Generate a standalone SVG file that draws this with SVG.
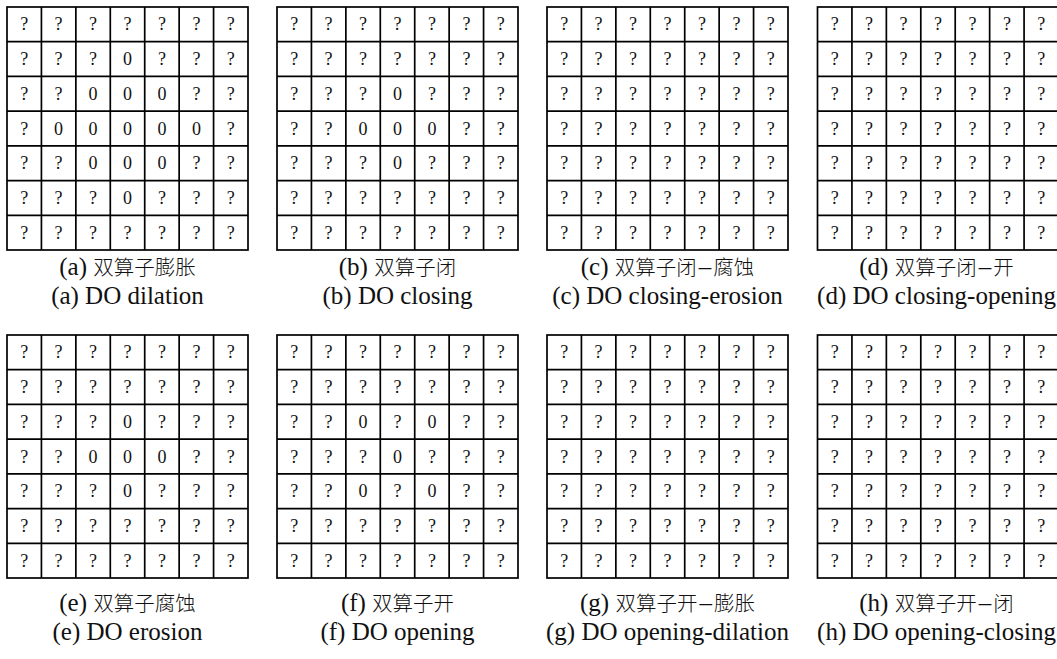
<svg xmlns="http://www.w3.org/2000/svg" xmlns:xlink="http://www.w3.org/1999/xlink" width="1057" height="659" viewBox="0 0 1057 659">
<style>
.gl{fill:none;stroke:#000;stroke-width:1.7}
.c{font-family:"Liberation Serif","DejaVu Serif",serif;font-size:18px;text-anchor:middle;fill:#111}
.cap{font-family:"Liberation Serif","DejaVu Serif",serif;font-size:25px;text-anchor:middle;fill:#111}
.zh{font-family:"Noto Sans CJK SC",sans-serif;font-size:20.5px;font-weight:300}
</style>
<defs>
<g id="grid">
<rect class="gl" x="0" y="0" width="241" height="243"/>
<path class="gl" d="M34.43 0V243M68.86 0V243M103.29 0V243M137.71 0V243M172.14 0V243M206.57 0V243M0 34.71H241M0 69.43H241M0 104.14H241M0 138.86H241M0 173.57H241M0 208.29H241"/>
</g>
</defs>
<rect width="1057" height="659" fill="#fff"/>

<g id="node-a" transform="translate(7,7)">
<use xlink:href="#grid" href="#grid"/>
<text class="c" x="17.2 51.6 86.1 120.5 154.9 189.4 223.8" y="23.4">???????</text>
<text class="c" x="17.2 51.6 86.1 120.5 154.9 189.4 223.8" y="58.1">???0???</text>
<text class="c" x="17.2 51.6 86.1 120.5 154.9 189.4 223.8" y="92.8">??000??</text>
<text class="c" x="17.2 51.6 86.1 120.5 154.9 189.4 223.8" y="127.5">?00000?</text>
<text class="c" x="17.2 51.6 86.1 120.5 154.9 189.4 223.8" y="162.2">??000??</text>
<text class="c" x="17.2 51.6 86.1 120.5 154.9 189.4 223.8" y="196.9">???0???</text>
<text class="c" x="17.2 51.6 86.1 120.5 154.9 189.4 223.8" y="231.6">???????</text>
</g>
<g id="caption-a">
<text class="cap" x="127.5" y="275">(a) <tspan class="zh">双算子膨胀</tspan></text>
<text class="cap" x="127.5" y="304">(a) DO dilation</text>
</g>

<g id="node-b" transform="translate(277,7)">
<use xlink:href="#grid" href="#grid"/>
<text class="c" x="17.2 51.6 86.1 120.5 154.9 189.4 223.8" y="23.4">???????</text>
<text class="c" x="17.2 51.6 86.1 120.5 154.9 189.4 223.8" y="58.1">???????</text>
<text class="c" x="17.2 51.6 86.1 120.5 154.9 189.4 223.8" y="92.8">???0???</text>
<text class="c" x="17.2 51.6 86.1 120.5 154.9 189.4 223.8" y="127.5">??000??</text>
<text class="c" x="17.2 51.6 86.1 120.5 154.9 189.4 223.8" y="162.2">???0???</text>
<text class="c" x="17.2 51.6 86.1 120.5 154.9 189.4 223.8" y="196.9">???????</text>
<text class="c" x="17.2 51.6 86.1 120.5 154.9 189.4 223.8" y="231.6">???????</text>
</g>
<g id="caption-b">
<text class="cap" x="397.5" y="275">(b) <tspan class="zh">双算子闭</tspan></text>
<text class="cap" x="397.5" y="304">(b) DO closing</text>
</g>

<g id="node-c" transform="translate(547,7)">
<use xlink:href="#grid" href="#grid"/>
<text class="c" x="17.2 51.6 86.1 120.5 154.9 189.4 223.8" y="23.4">???????</text>
<text class="c" x="17.2 51.6 86.1 120.5 154.9 189.4 223.8" y="58.1">???????</text>
<text class="c" x="17.2 51.6 86.1 120.5 154.9 189.4 223.8" y="92.8">???????</text>
<text class="c" x="17.2 51.6 86.1 120.5 154.9 189.4 223.8" y="127.5">???????</text>
<text class="c" x="17.2 51.6 86.1 120.5 154.9 189.4 223.8" y="162.2">???????</text>
<text class="c" x="17.2 51.6 86.1 120.5 154.9 189.4 223.8" y="196.9">???????</text>
<text class="c" x="17.2 51.6 86.1 120.5 154.9 189.4 223.8" y="231.6">???????</text>
</g>
<g id="caption-c">
<text class="cap" x="667.5" y="275">(c) <tspan class="zh">双算子闭</tspan><tspan dx="2">–</tspan><tspan class="zh" dx="2">腐蚀</tspan></text>
<text class="cap" x="667.5" y="304">(c) DO closing-erosion</text>
</g>

<g id="node-d" transform="translate(817.5,7)">
<use xlink:href="#grid" href="#grid"/>
<text class="c" x="17.2 51.6 86.1 120.5 154.9 189.4 223.8" y="23.4">???????</text>
<text class="c" x="17.2 51.6 86.1 120.5 154.9 189.4 223.8" y="58.1">???????</text>
<text class="c" x="17.2 51.6 86.1 120.5 154.9 189.4 223.8" y="92.8">???????</text>
<text class="c" x="17.2 51.6 86.1 120.5 154.9 189.4 223.8" y="127.5">???????</text>
<text class="c" x="17.2 51.6 86.1 120.5 154.9 189.4 223.8" y="162.2">???????</text>
<text class="c" x="17.2 51.6 86.1 120.5 154.9 189.4 223.8" y="196.9">???????</text>
<text class="c" x="17.2 51.6 86.1 120.5 154.9 189.4 223.8" y="231.6">???????</text>
</g>
<g id="caption-d">
<text class="cap" x="936.5" y="275">(d) <tspan class="zh">双算子闭</tspan><tspan dx="2">–</tspan><tspan class="zh" dx="2">开</tspan></text>
<text class="cap" x="936.5" y="304">(d) DO closing-opening</text>
</g>

<g id="node-e" transform="translate(7,335)">
<use xlink:href="#grid" href="#grid"/>
<text class="c" x="17.2 51.6 86.1 120.5 154.9 189.4 223.8" y="23.4">???????</text>
<text class="c" x="17.2 51.6 86.1 120.5 154.9 189.4 223.8" y="58.1">???????</text>
<text class="c" x="17.2 51.6 86.1 120.5 154.9 189.4 223.8" y="92.8">???0???</text>
<text class="c" x="17.2 51.6 86.1 120.5 154.9 189.4 223.8" y="127.5">??000??</text>
<text class="c" x="17.2 51.6 86.1 120.5 154.9 189.4 223.8" y="162.2">???0???</text>
<text class="c" x="17.2 51.6 86.1 120.5 154.9 189.4 223.8" y="196.9">???????</text>
<text class="c" x="17.2 51.6 86.1 120.5 154.9 189.4 223.8" y="231.6">???????</text>
</g>
<g id="caption-e">
<text class="cap" x="127.5" y="611">(e) <tspan class="zh">双算子腐蚀</tspan></text>
<text class="cap" x="127.5" y="640">(e) DO erosion</text>
</g>

<g id="node-f" transform="translate(277,335)">
<use xlink:href="#grid" href="#grid"/>
<text class="c" x="17.2 51.6 86.1 120.5 154.9 189.4 223.8" y="23.4">???????</text>
<text class="c" x="17.2 51.6 86.1 120.5 154.9 189.4 223.8" y="58.1">???????</text>
<text class="c" x="17.2 51.6 86.1 120.5 154.9 189.4 223.8" y="92.8">??0?0??</text>
<text class="c" x="17.2 51.6 86.1 120.5 154.9 189.4 223.8" y="127.5">???0???</text>
<text class="c" x="17.2 51.6 86.1 120.5 154.9 189.4 223.8" y="162.2">??0?0??</text>
<text class="c" x="17.2 51.6 86.1 120.5 154.9 189.4 223.8" y="196.9">???????</text>
<text class="c" x="17.2 51.6 86.1 120.5 154.9 189.4 223.8" y="231.6">???????</text>
</g>
<g id="caption-f">
<text class="cap" x="397.5" y="611">(f) <tspan class="zh">双算子开</tspan></text>
<text class="cap" x="397.5" y="640">(f) DO opening</text>
</g>

<g id="node-g" transform="translate(547,335)">
<use xlink:href="#grid" href="#grid"/>
<text class="c" x="17.2 51.6 86.1 120.5 154.9 189.4 223.8" y="23.4">???????</text>
<text class="c" x="17.2 51.6 86.1 120.5 154.9 189.4 223.8" y="58.1">???????</text>
<text class="c" x="17.2 51.6 86.1 120.5 154.9 189.4 223.8" y="92.8">???????</text>
<text class="c" x="17.2 51.6 86.1 120.5 154.9 189.4 223.8" y="127.5">???????</text>
<text class="c" x="17.2 51.6 86.1 120.5 154.9 189.4 223.8" y="162.2">???????</text>
<text class="c" x="17.2 51.6 86.1 120.5 154.9 189.4 223.8" y="196.9">???????</text>
<text class="c" x="17.2 51.6 86.1 120.5 154.9 189.4 223.8" y="231.6">???????</text>
</g>
<g id="caption-g">
<text class="cap" x="667.5" y="611">(g) <tspan class="zh">双算子开</tspan><tspan dx="2">–</tspan><tspan class="zh" dx="2">膨胀</tspan></text>
<text class="cap" x="667.5" y="640">(g) DO opening-dilation</text>
</g>

<g id="node-h" transform="translate(817.5,335)">
<use xlink:href="#grid" href="#grid"/>
<text class="c" x="17.2 51.6 86.1 120.5 154.9 189.4 223.8" y="23.4">???????</text>
<text class="c" x="17.2 51.6 86.1 120.5 154.9 189.4 223.8" y="58.1">???????</text>
<text class="c" x="17.2 51.6 86.1 120.5 154.9 189.4 223.8" y="92.8">???????</text>
<text class="c" x="17.2 51.6 86.1 120.5 154.9 189.4 223.8" y="127.5">???????</text>
<text class="c" x="17.2 51.6 86.1 120.5 154.9 189.4 223.8" y="162.2">???????</text>
<text class="c" x="17.2 51.6 86.1 120.5 154.9 189.4 223.8" y="196.9">???????</text>
<text class="c" x="17.2 51.6 86.1 120.5 154.9 189.4 223.8" y="231.6">???????</text>
</g>
<g id="caption-h">
<text class="cap" x="936.5" y="611">(h) <tspan class="zh">双算子开</tspan><tspan dx="2">–</tspan><tspan class="zh" dx="2">闭</tspan></text>
<text class="cap" x="936.5" y="640">(h) DO opening-closing</text>
</g>

<g id="connectors"></g>
</svg>
